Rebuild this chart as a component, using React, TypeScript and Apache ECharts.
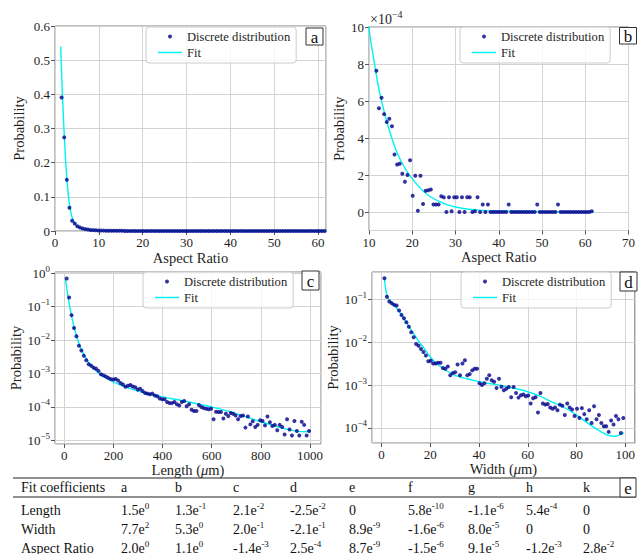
import React, { useEffect, useRef } from 'react';
import * as echarts from 'echarts';

const FONT = "'Liberation Serif', 'Times New Roman', Times, serif";
const DOT = '#00008b';
const FIT = '#00f2f2';
const TXT = '#1e1e1e';

// ---- Aspect ratio (panels a, b) ----
const AR_BIN_START = 1.5;
const AR_BIN_WIDTH = 0.6;
const AR_PROB = [
  0.391, 0.274, 0.150, 0.068, 0.030, 0.022, 0.014, 0.010, 0.0072, 0.0055, 0.0042, 0.0032, 0.0026, 0.0021, 0.0017, 0.0013, 0.00105,
  7.64e-4, 5.61e-4, 6.17e-4, 5.29e-4, 4.86e-4, 5.04e-4, 4.64e-4, 3.11e-4, 2.57e-4, 2.61e-4,
  2.07e-4, 1.64e-4, 2.0e-4, 2.8e-4, 0.88e-4, 1.96e-4, 0.07e-4, 1.96e-4, 0.43e-4, 1.15e-4,
  1.17e-4, 1.22e-4, 0.41e-4, 0.4e-4, 0.4e-4, 0.85e-4, 0.79e-4, 0, 0.8e-4, 0.04e-4,
  0.8e-4, 0.8e-4, 0, 0.8e-4, 0, 0.8e-4, 0.8e-4, 0, 0.04e-4, 0.8e-4,
  0, 0.4e-4, 0, 0.4e-4,
  0, 0, 0, 0, 0, 0, 0, 0.4e-4,
  0, 0, 0, 0, 0, 0, 0, 0, 0, 0, 0.4e-4,
  0, 0, 0, 0, 0, 0, 0, 0.4e-4,
  0, 0, 0, 0, 0, 0, 0, 0, 0, 0, 0, 0, 0.04e-4,
];
const AR_FIT_X = [1.3, 1.6, 2.0, 2.5, 3.0, 3.5, 4.0, 4.5, 5.0, 6.0, 7.0, 8.0, 9.0, 10, 11, 12, 13, 14, 15, 16, 17, 18, 19, 20, 22, 24, 26, 28, 30, 33, 36, 40, 45, 50, 55, 62];
const AR_FIT_Y = [0.54, 0.43, 0.31, 0.19, 0.11, 0.062, 0.036, 0.022, 0.014, 0.0068, 0.0040, 0.0024, 0.0015, 0.00100, 8.4e-4, 7.0e-4, 5.9e-4, 5.0e-4, 4.2e-4, 3.5e-4, 2.95e-4, 2.5e-4, 2.1e-4, 1.8e-4, 1.25e-4, 0.85e-4, 0.6e-4, 0.4e-4, 0.27e-4, 0.15e-4, 0.09e-4, 0.05e-4, 0.03e-4, 0.02e-4, 0.02e-4, 0.02e-4];
const B_SCALE = 1e4; // panel b is drawn in units of 1e-4

// ---- Length (panel c) ----
const LEN_BIN_START = 9.5;
const LEN_BIN_WIDTH = 9.97;
const LEN_PROB = [
  0.70, 0.19, 0.056, 0.023, 0.013, 0.0068, 0.0049, 0.0034, 0.0025, 0.0019,
  0.0017, 0.0015, 0.0014, 0.0012, 0.00095, 0.00088, 0.00082, 0.00074, 0.00068, 0.00066,
  0.00069, 0.00062, 0.00052, 0.00047, 0.00040, 0.00043, 0.00045, 0.00041, 0.00039, 0.00033,
  0.00035, 0.00030, 0.00026, 0.00025, 0.00024, 0.00025, 0.00022, 0.00021, 0.00018, 0.00017,
  0.00017, 0.00014, 0.00013, 0.00013, 0.00014, 0.00012, 0.00011, 0.00014, 0.00015, 0.000105,
  0.00012, 0.000082, 0.000075, 0.000076, 0.000115, 0.0001, 0.000092, 0.000088, 0.000085, 0.000088,
  0.000043, 0.000072, 0.00007, 0.00007, 0.000045, 0.000062, 0.000053, 0.000066, 0.000062, 0.000055,
  0.000043, 0.000053, 0.000055, 0.000024, 0.000052, 0.00003, 0.000037, 0.000025, 0.000029, 0.00004,
  0.000038, 0.000028, 0.000052, 0.000035, 0.000027, 0.000029, 0.00002, 0.000029, 0.000025, 0.000015,
  0.000043, 0.000021, 0.000014, 0.000038, 0.000019, 0.000014, 0.000036, 0.000029, 0.000014, 0.000019,
];
const LEN_FIT_X = [5, 10, 15, 20, 30, 40, 50, 60, 75, 100, 125, 150, 175, 200, 250, 300, 350, 400, 450, 500, 550, 600, 650, 700, 750, 800, 850, 900, 950, 980, 1000];
const LEN_FIT_Y = [0.65, 0.35, 0.2, 0.12, 0.05, 0.024, 0.013, 0.0078, 0.0043, 0.0021, 0.0013, 9.0e-4, 7.0e-4, 5.6e-4, 3.9e-4, 3.0e-4, 2.4e-4, 2.0e-4, 1.7e-4, 1.45e-4, 1.2e-4, 1.0e-4, 8.0e-5, 6.3e-5, 4.8e-5, 3.6e-5, 2.8e-5, 2.2e-5, 1.85e-5, 1.8e-5, 1.9e-5];

// ---- Width (panel d) ----
const WID_BIN_START = 1.2;
const WID_BIN_WIDTH = 1.0;
const WID_PROB = [
  0.31, 0.115, 0.089, 0.081, 0.074, 0.072, 0.055, 0.043, 0.036, 0.029,
  0.023, 0.017, 0.013, 0.0091, 0.0083, 0.0069, 0.0059, 0.0049, 0.0036, 0.0037,
  0.0032, 0.0032, 0.0033, 0.0033, 0.0025, 0.0024, 0.0027, 0.0017, 0.0019, 0.002,
  0.003, 0.0017, 0.0032, 0.0038, 0.0017, 0.0018, 0.0022, 0.0024, 0.0024, 0.0011,
  0.001, 0.0011, 0.0014, 0.0017, 0.0013, 0.0012, 0.00085, 0.0014, 0.00091, 0.00076,
  0.00082, 0.0009, 0.00052, 0.0009, 0.00065, 0.00051, 0.00058, 0.0006, 0.00055, 0.00057,
  0.00037, 0.00049, 0.00052, 0.00023, 0.00065, 0.00037, 0.00035, 0.00036, 0.0003, 0.00028,
  0.0003, 0.00026, 0.00035, 0.00033, 0.0002, 0.00037, 0.0003, 0.00027, 0.00019, 0.00028,
  0.00017, 0.00029, 0.00021, 0.00016, 0.00026, 0.00013, 0.00032, 0.00016, 0.0002, 0.00013,
  0.00011, 0.00011, 0.000081, 0.00015, 0.00012, 0.00019, 0.00016, 0.000076, 0.00017,
];
const WID_FIT_X = [1.2, 2, 3, 5, 7, 10, 12, 15, 18, 20, 22, 25, 30, 35, 40, 45, 50, 55, 60, 65, 70, 75, 80, 85, 90, 93, 96, 98, 99.5];
const WID_FIT_Y = [0.31, 0.14, 0.1, 0.075, 0.055, 0.03, 0.02, 0.011, 0.0065, 0.0045, 0.0034, 0.0025, 0.0017, 0.0014, 0.0012, 0.00107, 0.00095, 0.00083, 0.0007, 0.00055, 0.0004, 0.0003, 0.0002, 0.000125, 0.000082, 0.000067, 0.000064, 0.00007, 0.000078];

// ---- Fit coefficient table (panel e) ----
const TABLE_HEAD = 'Fit coefficients';
const TABLE_PARAMS = ['a', 'b', 'c', 'd', 'e', 'f', 'g', 'h', 'k'];
const TABLE_ROW_NAMES = ['Length', 'Width', 'Aspect Ratio'];
const LENGTH_COEFS = ['1.5e0', '1.3e-1', '2.1e-2', '-2.5e-2', '0', '5.8e-10', '-1.1e-6', '5.4e-4', '0'];
const WIDTH_COEFS = ['7.7e2', '5.3e0', '2.0e-1', '-2.1e-1', '8.9e-9', '-1.6e-6', '8.0e-5', '0', '0'];
const AR_COEFS = ['2.0e0', '1.1e0', '-1.4e-3', '2.5e-4', '8.7e-9', '-1.5e-6', '9.1e-5', '-1.2e-3', '2.8e-2'];

const LEGEND_NAMES = ['Discrete distribution', 'Fit'];
const PANEL_LETTERS = ['a', 'b', 'c', 'd', 'e'];

const bins = (start: number, w: number, ys: number[], k = 1) => ys.map((y, i) => [start + w * i, y * k]);
const pairs = (xs: number[], ys: number[], k = 1) => xs.map((x, i) => [x, ys[i] * k]);
const supRich = (s: string) => s.replace(/e(-?\d+)$/, 'e{sup|$1}');
const logLabel = (v: number) => {
  const e = Math.round(Math.log10(v));
  return '10{sup|' + (e < 0 ? '\u2212' + -e : String(e)) + '}';
};
const plainNum = (v: number) => String(Math.round(v * 1000) / 1000);

const labelStyle = { fontFamily: FONT, fontSize: 13, color: TXT };
const logLabelStyle = {
  ...labelStyle,
  rich: { sup: { fontFamily: FONT, fontSize: 9, color: TXT, padding: [0, 0, 9, 0] } },
};
const nameStyle = { fontFamily: FONT, fontSize: 14.5, color: TXT, rich: { i: { fontFamily: FONT, fontSize: 14.5, fontStyle: 'italic', color: TXT } } };

function axisBase(extra: any) {
  return {
    axisLine: { show: false, onZero: false },
    axisTick: { show: true, length: 4, lineStyle: { color: '#555' } },
    splitLine: { show: true, lineStyle: { color: '#d3d3d3', width: 1 } },
    nameLocation: 'middle',
    nameTextStyle: nameStyle,
    ...extra,
  };
}

function letterBox(x: number, y: number, w: number, h: number, letter: string) {
  return {
    type: 'group',
    z: 100,
    children: [
      { type: 'rect', z: 100, shape: { x, y, width: w, height: h }, style: { fill: '#fff', stroke: '#333', lineWidth: 1 } },
      { type: 'text', z: 101, style: { text: letter, x: x + w / 2, y: y + h / 2 + 1, align: 'center', verticalAlign: 'middle', fontFamily: FONT, fontSize: 17, fill: '#111' } },
    ],
  };
}

function legendAt(left: number, top: number) {
  return {
    left, top,
    orient: 'vertical',
    data: [
      { name: LEGEND_NAMES[0], icon: 'circle' },
      { name: LEGEND_NAMES[1], icon: 'path://M0,0 L100,0 L100,6 L0,6 Z' },
    ],
    itemWidth: 24,
    itemHeight: 4,
    itemGap: 3,
    padding: [3, 6, 4, 12],
    backgroundColor: 'rgba(255,255,255,0.8)',
    borderColor: '#cccccc',
    borderWidth: 1,
    borderRadius: 3,
    textStyle: { fontFamily: FONT, fontSize: 12.6, color: TXT },
    selectedMode: false,
  };
}

export default function App() {
  const ref = useRef<HTMLDivElement>(null);
  useEffect(() => {
    if (!ref.current) return;
    const chart = echarts.init(ref.current, null, { renderer: 'svg' });

    const gridStyle = { show: true, borderColor: '#808080', borderWidth: 1, backgroundColor: 'transparent' };
    const scatter = (xi: number, data: number[][]) => ({
      type: 'scatter', name: LEGEND_NAMES[0], xAxisIndex: xi, yAxisIndex: xi, data,
      symbolSize: 4, itemStyle: { color: DOT }, z: 3, clip: true,
    });
    const fitLine = (xi: number, data: number[][]) => ({
      type: 'line', name: LEGEND_NAMES[1], xAxisIndex: xi, yAxisIndex: xi, data,
      symbol: 'none', smooth: 0.3, lineStyle: { color: FIT, width: 1.4 }, itemStyle: { color: FIT }, z: 2, clip: true,
    });

    // table graphics
    const colX = [121, 175, 233, 290, 349, 408, 468, 526, 583];
    const rowY = [510, 529, 548];
    const tText = (text: string, x: number, y: number) => ({
      type: 'text', z: 50,
      style: {
        text, x, y, align: 'left', verticalAlign: 'middle', fontFamily: FONT, fontSize: 14, fill: '#111',
        rich: { sup: { fontFamily: FONT, fontSize: 9, fill: '#111', padding: [0, 0, 9, 0] } },
      },
    });
    const tableEls: any[] = [
      { type: 'line', shape: { x1: 13, y1: 478, x2: 636, y2: 478 }, style: { stroke: '#222', lineWidth: 1.2 } },
      { type: 'line', shape: { x1: 13, y1: 497, x2: 636, y2: 497 }, style: { stroke: '#222', lineWidth: 1 } },
      tText(TABLE_HEAD, 21, 487),
    ];
    TABLE_PARAMS.forEach((p, i) => tableEls.push(tText(p, colX[i], 487)));
    [LENGTH_COEFS, WIDTH_COEFS, AR_COEFS].forEach((row, r) => {
      tableEls.push(tText(TABLE_ROW_NAMES[r], 21, rowY[r]));
      row.forEach((v, i) => tableEls.push(tText(supRich(v), colX[i], rowY[r])));
    });

    const option: any = {
      animation: false,
      backgroundColor: '#ffffff',
      textStyle: { fontFamily: FONT },
      grid: [
        { left: 55, top: 26, width: 271, height: 205, ...gridStyle },
        { left: 369, top: 27, width: 270, height: 203.5, ...gridStyle },
        { left: 55, top: 272, width: 266, height: 172, ...gridStyle },
        { left: 372, top: 272, width: 264, height: 171, ...gridStyle },
      ],
      xAxis: [
        axisBase({ gridIndex: 0, type: 'value', min: 0, max: 61.8, interval: 10, name: 'Aspect Ratio', nameGap: 19,
          axisLabel: { ...labelStyle, margin: 5, showMaxLabel: false, formatter: plainNum } }),
        axisBase({ gridIndex: 1, type: 'value', min: 10, max: 70, interval: 10, name: 'Aspect Ratio', nameGap: 19,
          axisLabel: { ...labelStyle, margin: 5, formatter: plainNum } }),
        axisBase({ gridIndex: 2, type: 'value', min: -38, max: 1045, splitNumber: 5, name: 'Length ({i|\u03bc}m)', nameGap: 13,
          axisLabel: { ...labelStyle, margin: 5, showMinLabel: false, showMaxLabel: false, formatter: plainNum } }),
        axisBase({ gridIndex: 3, type: 'value', min: -3.9, max: 103.9, splitNumber: 5, name: 'Width ({i|\u03bc}m)', nameGap: 13,
          axisLabel: { ...labelStyle, margin: 5, showMinLabel: false, showMaxLabel: false, formatter: plainNum } }),
      ],
      yAxis: [
        axisBase({ gridIndex: 0, type: 'value', min: 0, max: 0.6, interval: 0.1, name: 'Probability', nameGap: 29,
          axisLabel: { ...labelStyle, margin: 5, formatter: plainNum } }),
        axisBase({ gridIndex: 1, type: 'value', min: -1, max: 10, splitNumber: 5, name: 'Probability', nameGap: 23,
          axisLabel: { ...labelStyle, margin: 5, showMinLabel: false, formatter: plainNum } }),
        axisBase({ gridIndex: 2, type: 'log', logBase: 10, min: 7.76e-6, max: 1.096, splitNumber: 5, name: 'Probability', nameGap: 30,
          axisLabel: { ...logLabelStyle, margin: 5, showMinLabel: false, showMaxLabel: false, formatter: logLabel } }),
        axisBase({ gridIndex: 3, type: 'log', logBase: 10, min: 4.46e-5, max: 0.4325, splitNumber: 5, name: 'Probability', nameGap: 31,
          axisLabel: { ...logLabelStyle, margin: 5, showMinLabel: false, showMaxLabel: false, formatter: logLabel } }),
      ],
      legend: [legendAt(146, 27), legendAt(460, 27), legendAt(143, 272), legendAt(461, 272)],
      series: [
        fitLine(0, pairs(AR_FIT_X, AR_FIT_Y)),
        scatter(0, bins(AR_BIN_START, AR_BIN_WIDTH, AR_PROB)),
        fitLine(1, pairs(AR_FIT_X, AR_FIT_Y, B_SCALE)),
        scatter(1, bins(AR_BIN_START, AR_BIN_WIDTH, AR_PROB, B_SCALE)),
        fitLine(2, pairs(LEN_FIT_X, LEN_FIT_Y)),
        scatter(2, bins(LEN_BIN_START, LEN_BIN_WIDTH, LEN_PROB)),
        fitLine(3, pairs(WID_FIT_X, WID_FIT_Y)),
        scatter(3, bins(WID_BIN_START, WID_BIN_WIDTH, WID_PROB)),
      ],
      graphic: [
        {
          type: 'text', z: 50,
          style: {
            text: '\u00d710{sup|\u22124}', x: 370, y: 19, align: 'left', verticalAlign: 'middle',
            fontFamily: FONT, fontSize: 14, fill: TXT,
            rich: { sup: { fontFamily: FONT, fontSize: 10, fill: TXT, padding: [0, 0, 9, 0] } },
          },
        },
        letterBox(306, 28, 17, 17, PANEL_LETTERS[0]),
        letterBox(619.5, 27.5, 17, 16.5, PANEL_LETTERS[1]),
        letterBox(302, 271, 17, 19, PANEL_LETTERS[2]),
        letterBox(620, 272, 17, 19, PANEL_LETTERS[3]),
        letterBox(620, 478, 16, 19, PANEL_LETTERS[4]),
        ...tableEls,
      ],
    };
    chart.setOption(option);
    return () => chart.dispose();
  }, []);
  return <div ref={ref} style={{ position: 'absolute', left: 0, top: 0, width: 638, height: 554 }} />;
}
